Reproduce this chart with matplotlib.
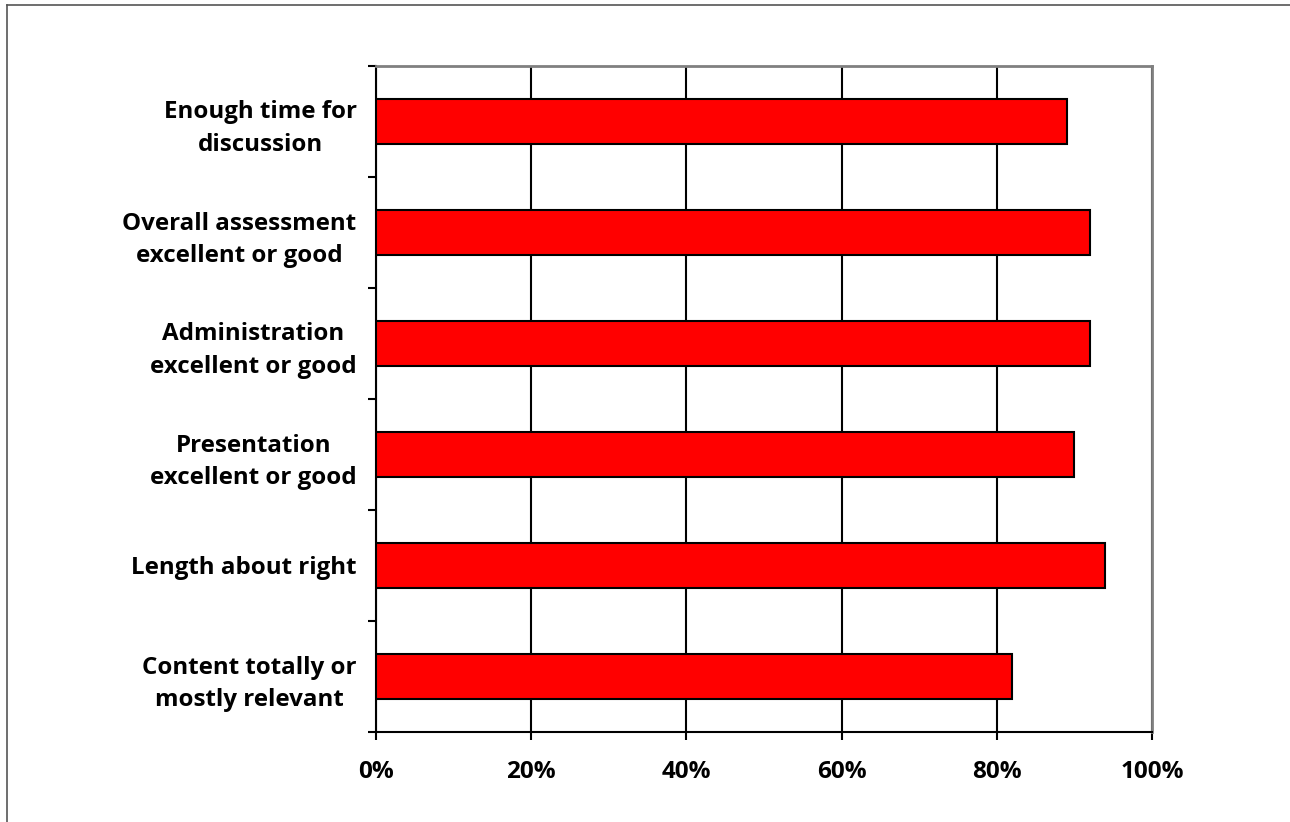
import matplotlib.pyplot as plt
from matplotlib.lines import Line2D
import numpy as np

# Survey results, bottom to top as drawn
categories = [
    "Content totally or\nmostly relevant",
    "Length about right",
    "Presentation\nexcellent or good",
    "Administration\nexcellent or good",
    "Overall assessment\nexcellent or good",
    "Enough time for\ndiscussion",
]
values = [0.82, 0.94, 0.90, 0.92, 0.92, 0.89]
xticks = [0.0, 0.2, 0.4, 0.6, 0.8, 1.0]
xtick_labels = ["0%", "20%", "40%", "60%", "80%", "100%"]

plt.rcParams['font.family'] = ['Open Sans', 'DejaVu Sans']
plt.rcParams['font.weight'] = 'bold'

fig = plt.figure(figsize=(12.9, 8.22), dpi=100)
ax = fig.add_axes([376/1290, 90/822, 776/1290, 666/822])

# outer frame (only top and left visible in the original)
fig.add_artist(Line2D([7/1290, 1.0], [1 - 5/822, 1 - 5/822], color='#555555', lw=1.2))
fig.add_artist(Line2D([7/1290, 7/1290], [0.0, 1 - 5/822], color='#555555', lw=1.2))

y = np.arange(len(categories))
ax.barh(y, values, height=0.41, color='#ff0000', edgecolor='black', linewidth=1.5, zorder=3)

ax.set_xlim(0, 1)
ax.set_ylim(-0.5, len(categories) - 0.5)

ax.set_xticks(xticks)
ax.set_xticklabels(xtick_labels, fontsize=17.5, fontweight='bold')
ax.tick_params(axis='x', direction='out', length=6, width=1.5, pad=14)

ax.set_yticks(y)
ax.set_yticklabels(categories, fontsize=17.4, fontweight='bold', ha='right',
                   multialignment='center', linespacing=1.45)
ax.tick_params(axis='y', which='major', length=0, pad=14)
ax.set_yticks(np.arange(-0.5, len(categories)), minor=True)
ax.tick_params(axis='y', which='minor', direction='out', length=6, width=1.5)

ax.grid(axis='x', color='black', linewidth=1.5, zorder=0)
ax.set_axisbelow(True)

for side in ['left', 'bottom']:
    ax.spines[side].set_color('black')
    ax.spines[side].set_linewidth(1.5)
for side in ['top', 'right']:
    ax.spines[side].set_color('#808080')
    ax.spines[side].set_linewidth(2)

fig.savefig('out.png', dpi=100)
